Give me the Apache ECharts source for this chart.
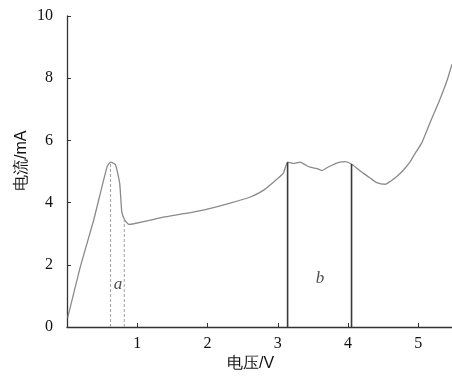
<!DOCTYPE html>
<html>
<head>
<meta charset="utf-8">
<script src="https://cdn.jsdelivr.net/npm/echarts@6/dist/echarts.min.js"></script>
<style>html,body{margin:0;padding:0;background:#fff}#c{width:452px;height:376px}</style>
</head>
<body>
<div id="c"></div>
<script>
// Current (mA) vs voltage (V)
const voltage = [0.01,0.19,0.38,0.57,0.62,0.69,0.75,0.78,0.82,0.88,0.95,1.16,1.37,1.6,1.85,2.1,2.32,2.61,2.8,2.95,3.08,3.14,3.22,3.32,3.4,3.46,3.55,3.63,3.7,3.77,3.88,3.96,4.05,4.14,4.22,4.32,4.41,4.53,4.6,4.69,4.79,4.88,4.96,5.05,5.13,5.21,5.29,5.36,5.42,5.48];
const current = [0.3,1.94,3.44,5.15,5.3,5.22,4.62,3.7,3.45,3.3,3.32,3.42,3.53,3.62,3.72,3.85,3.98,4.18,4.4,4.68,4.95,5.3,5.26,5.3,5.2,5.14,5.1,5.03,5.12,5.2,5.3,5.32,5.24,5.08,4.94,4.78,4.64,4.59,4.68,4.83,5.05,5.3,5.6,5.92,6.36,6.8,7.22,7.62,8.0,8.45];
// region a boundaries (dashed) and region b boundaries (solid)
const regionAX = [0.62, 0.815];
const regionAY = [5.3, 3.45];
const regionBX = [3.14, 4.05];
const regionBY = [5.3, 5.24];
const regionLabels = [{text:'a', x:0.725, y:1.35},{text:'b', x:3.6, y:1.57}];
const xTicks = [1,2,3,4,5];
const yTicks = [0,2,4,6,8,10];

const serif = 'Liberation Serif, "Times New Roman", "Noto Sans CJK SC", serif';
const curve = voltage.map((v,i)=>[v,current[i]]);
const series = [{
  type:'line', data:curve, showSymbol:false, symbol:'none', smooth:0.15,
  lineStyle:{color:'#8a8a8a', width:1.3}, silent:true, z:3
}];
regionAX.forEach((x,i)=>series.push({
  type:'line', data:[[x,0],[x,regionAY[i]]], symbol:'none',
  lineStyle:{color:'#a0a0a0', width:1, type:[3,2]}, silent:true
}));
regionBX.forEach((x,i)=>series.push({
  type:'line', data:[[x,0],[x,regionBY[i]]], symbol:'none',
  lineStyle:{color:'#3a3a3a', width:1.6}, silent:true
}));
series.push({
  type:'scatter', symbolSize:0,
  data:regionLabels.map(l=>({value:[l.x,l.y], name:l.text})),
  label:{show:true, position:'inside', formatter:p=>p.name, color:'#222', fontSize:17, fontStyle:'italic', fontFamily:serif},
  silent:true
});

const chart = echarts.init(document.getElementById('c'), null, {renderer:'canvas'});
chart.setOption({
  animation:false,
  backgroundColor:'#fff',
  grid:{left:67, right:0, top:16, bottom:49, containLabel:false},
  xAxis:{
    type:'value', min:0, max:5.48, interval:1,
    axisLine:{show:true, lineStyle:{color:'#333', width:1.3}},
    axisTick:{show:true, inside:true, length:4, lineStyle:{color:'#333'},
      customValues:xTicks},
    axisLabel:{show:true, color:'#111', fontSize:16, fontFamily:serif, margin:9,
      customValues:xTicks},
    splitLine:{show:false}
  },
  yAxis:{
    type:'value', min:0, max:10, interval:2,
    axisLine:{show:true, lineStyle:{color:'#333', width:1.3}},
    axisTick:{show:true, inside:true, length:4, lineStyle:{color:'#333'}, customValues:yTicks},
    axisLabel:{show:true, color:'#111', fontSize:16, fontFamily:serif, margin:14, customValues:yTicks},
    splitLine:{show:false}
  },
  graphic:[
    {type:'text', left:227, top:356, style:{text:'电压/V', fontSize:16, fill:'#111', font:'16px ' + serif}},
    {type:'text', x:14, y:191, rotation:Math.PI/2, style:{text:'电流/mA', fontSize:16, fill:'#111', font:'16px ' + serif}}
  ],
  series:series
});
</script>
</body>
</html>
